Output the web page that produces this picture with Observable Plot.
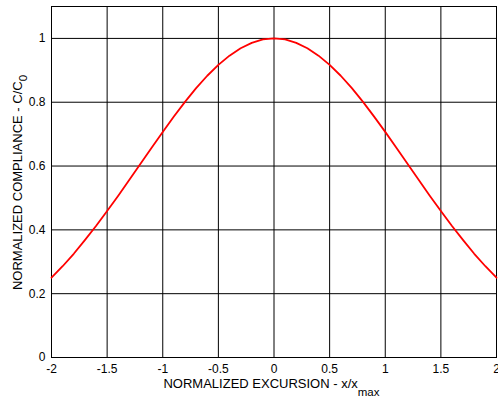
<!DOCTYPE html>
<html>
<head>
<meta charset="utf-8">
<script src="https://cdn.jsdelivr.net/npm/d3@7"></script>
<script src="https://cdn.jsdelivr.net/npm/@observablehq/plot@0.6"></script>
<style>
  html, body { margin: 0; padding: 0; background: #fff; }
  #chart svg { display: block; }
</style>
</head>
<body>
<div id="chart"></div>
<script>
// Normalized excursion x/xmax
const excursion = [-2.0,-1.9,-1.8,-1.7,-1.6,-1.5,-1.4,-1.3,-1.2,-1.1,-1.0,-0.9,-0.8,-0.7,-0.6,-0.5,-0.4,-0.3,-0.2,-0.1,0.0,
                   0.1,0.2,0.3,0.4,0.5,0.6,0.7,0.8,0.9,1.0,1.1,1.2,1.3,1.4,1.5,1.6,1.7,1.8,1.9,2.0];
// Normalized compliance C/C0
const compliance = [0.250,0.286,0.325,0.368,0.412,0.459,0.507,0.557,0.607,0.657,0.707,0.755,0.801,0.844,0.883,0.917,0.946,0.969,0.986,0.997,1.000,
                    0.997,0.986,0.969,0.946,0.917,0.883,0.844,0.801,0.755,0.707,0.657,0.607,0.557,0.507,0.459,0.412,0.368,0.325,0.286,0.250];
const xTicks = [-2,-1.5,-1,-0.5,0,0.5,1,1.5,2];
const yTicks = [0,0.2,0.4,0.6,0.8,1];
const xLabel = ["NORMALIZED EXCURSION - x/x", "max"];
const yLabel = ["NORMALIZED COMPLIANCE - C/C", "0"];

const data = excursion.map((x, i) => ({x, y: compliance[i]}));

const W = 498, H = 400;
const mL = 51, mR = 2, mT = 6, mB = 43;
const FONT = "'Liberation Sans', Arial, sans-serif";

const chart = Plot.plot({
  width: W,
  height: H,
  marginLeft: mL,
  marginRight: mR,
  marginTop: mT,
  marginBottom: mB,
  style: {fontFamily: FONT, fontSize: "12px", color: "#000", background: "#fff"},
  x: {domain: [-2, 2], label: null},
  y: {domain: [0, 1.1], label: null},
  marks: [
    Plot.gridX(xTicks, {stroke: "#000", strokeOpacity: 1, strokeWidth: 1}),
    Plot.gridY(yTicks, {stroke: "#000", strokeOpacity: 1, strokeWidth: 1}),
    Plot.frame({stroke: "#000", strokeWidth: 1}),
    Plot.line(data, {x: "x", y: "y", stroke: "#ff0000", strokeWidth: 1.8}),
    Plot.axisX({ticks: xTicks, tickFormat: d => String(d), tickSize: 0, tickPadding: 7, label: null, fill: "#000", fontSize: 12}),
    Plot.axisY({ticks: yTicks, tickFormat: d => String(d), tickSize: 0, tickPadding: 6, label: null, fill: "#000", fontSize: 12})
  ]
});

document.getElementById("chart").appendChild(chart);

// Axis titles with subscripts
const svg = d3.select(chart);
const cx = mL + (W - mL - mR) / 2;
const cy = mT + (H - mT - mB) / 2;

const tx = svg.append("text")
  .attr("x", cx - 2).attr("y", 388)
  .attr("text-anchor", "middle")
  .attr("font-family", FONT).attr("font-size", 13).attr("fill", "#000");
tx.append("tspan").text(xLabel[0]);
tx.append("tspan").attr("dy", 8).attr("font-size", 11.5).text(xLabel[1]);

const ty = svg.append("text")
  .attr("transform", `translate(22,${cy + 1}) rotate(-90)`)
  .attr("text-anchor", "middle")
  .attr("font-family", FONT).attr("font-size", 13).attr("fill", "#000");
ty.append("tspan").text(yLabel[0]);
ty.append("tspan").attr("dy", 5).attr("font-size", 11.5).text(yLabel[1]);
</script>
</body>
</html>
